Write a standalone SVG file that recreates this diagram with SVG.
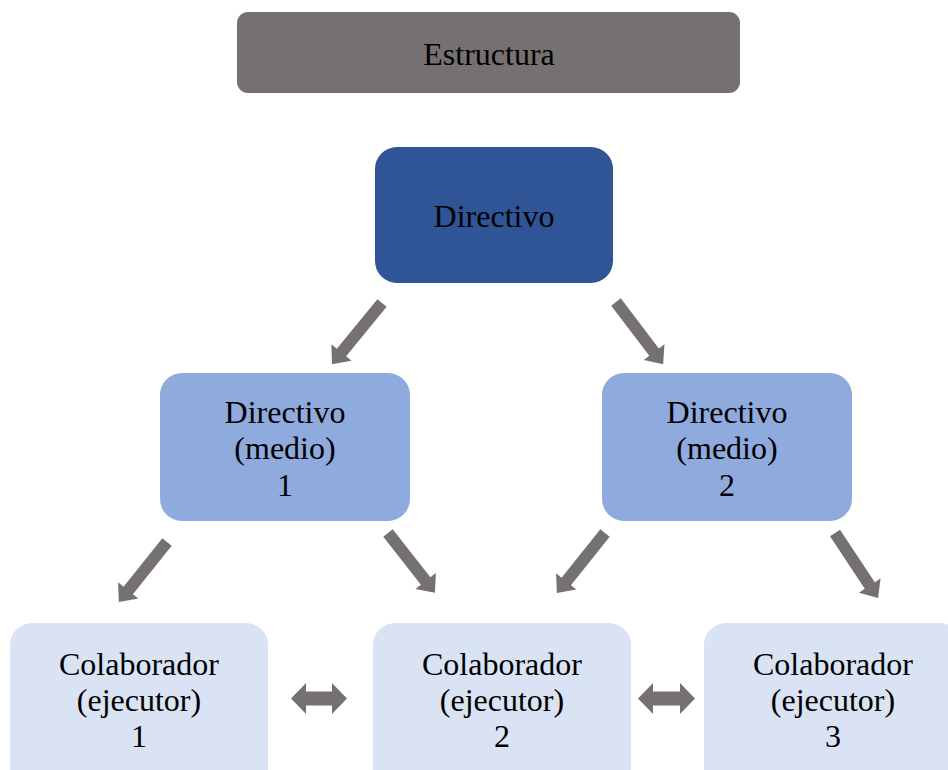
<svg xmlns="http://www.w3.org/2000/svg" width="948" height="770" viewBox="0 0 948 770">
<defs>
<style>
.arr{fill:#767171}
</style>
</defs>
<rect width="948" height="770" fill="#fff"/>
<g font-family="Liberation Serif" font-size="32" text-anchor="middle" fill="#000">
<g id="estructura">
<rect x="237" y="12" width="503" height="81" rx="11" fill="#767171"/>
<text x="489" y="65">Estructura</text>
</g>
<g id="directivo">
<rect x="375" y="147" width="238" height="136" rx="22" fill="#2F5597"/>
<text x="494" y="227">Directivo</text>
</g>
<g id="medio1">
<rect x="160" y="373" width="250" height="148" rx="22" fill="#8FAADC"/>
<text x="285" y="423">Directivo</text>
<text x="285" y="459">(medio)</text>
<text x="285" y="496">1</text>
</g>
<g id="medio2">
<rect x="602" y="373" width="250" height="148" rx="22" fill="#8FAADC"/>
<text x="727" y="423">Directivo</text>
<text x="727" y="459">(medio)</text>
<text x="727" y="496">2</text>
</g>
<g id="colab1">
<rect x="10" y="623" width="258" height="170" rx="22" fill="#DAE3F3"/>
<text x="139" y="675">Colaborador</text>
<text x="139" y="711">(ejecutor)</text>
<text x="139" y="747">1</text>
</g>
<g id="colab2">
<rect x="373" y="623" width="258" height="170" rx="22" fill="#DAE3F3"/>
<text x="502" y="675">Colaborador</text>
<text x="502" y="711">(ejecutor)</text>
<text x="502" y="747">2</text>
</g>
<g id="colab3">
<rect x="704" y="623" width="258" height="170" rx="22" fill="#DAE3F3"/>
<text x="833" y="675">Colaborador</text>
<text x="833" y="711">(ejecutor)</text>
<text x="833" y="747">3</text>
</g>
</g>
<g id="connectors" class="arr">
<polygon transform="translate(382,303) rotate(129.3)" points="0,-6 64,-6 64,-13 79,0 64,13 64,6 0,6"/>
<polygon transform="translate(616,302) rotate(52.8)" points="0,-6 63,-6 63,-13 78,0 63,13 63,6 0,6"/>
<polygon transform="translate(167,542) rotate(128.7)" points="0,-6 62,-6 62,-13 77,0 62,13 62,6 0,6"/>
<polygon transform="translate(388,533) rotate(51.9)" points="0,-6 61,-6 61,-13 76,0 61,13 61,6 0,6"/>
<polygon transform="translate(605,533) rotate(128.7)" points="0,-6 62,-6 62,-13 77,0 62,13 62,6 0,6"/>
<polygon transform="translate(835,533) rotate(56.5)" points="0,-6 63,-6 63,-13 78,0 63,13 63,6 0,6"/>
<polygon points="291,698.5 306,683 306,691.5 332,691.5 332,683 347,698.5 332,714 332,705.5 306,705.5 306,714"/>
<polygon points="638,698.5 653,683 653,691.5 680,691.5 680,683 695,698.5 680,714 680,705.5 653,705.5 653,714"/>
</g>
</svg>
